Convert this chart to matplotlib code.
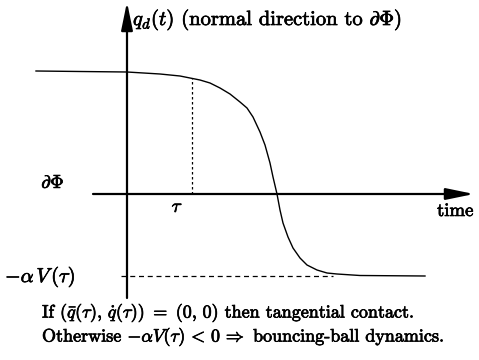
import numpy as np
import matplotlib
matplotlib.use("Agg")
import matplotlib.pyplot as plt
import matplotlib.patheffects as pe

plt.rcParams["font.family"] = "cmr10"
plt.rcParams["mathtext.fontset"] = "cm"
plt.rcParams["axes.formatter.use_mathtext"] = True

# curve q_d(t) (origin at the axes crossing)
t_curve = [-91, -47, 0, 33, 53, 63, 73, 83, 93, 103, 113, 120, 126, 133, 138, 143, 146,
           150, 153, 156, 161, 166, 173, 180, 190, 200, 210, 233, 298]
q_curve = [123, 122.5, 122, 120, 118, 116, 114, 111, 106, 100, 92, 86, 77, 62, 49, 31, 17,
           0, -16, -29, -43, -54, -64, -71, -76, -79, -80, -81.5, -82]

tau = 64.5         # contact time
q_tau = 116        # q_d(tau)
alpha_V = -82      # -alpha V(tau)

fig = plt.figure(figsize=(4.79, 3.6), dpi=100)
ax = fig.add_axes([0, 0, 1, 1])
ax.set_xlim(-127, 352)
ax.set_ylim(-166, 194)
ax.axis("off")

# axes with arrows
ax.annotate("", xy=(347, 0), xytext=(-34, 0),
            arrowprops=dict(arrowstyle="-|>,head_length=1.7,head_width=0.35",
                            lw=1.6, color="black", shrinkA=0, shrinkB=0))
ax.annotate("", xy=(0, 192), xytext=(0, -104),
            arrowprops=dict(arrowstyle="-|>,head_length=1.7,head_width=0.35",
                            lw=1.6, color="black", shrinkA=0, shrinkB=0))

ax.plot(t_curve, q_curve, color="black", lw=1.0, solid_joinstyle="round")

# dashed guides
ax.plot([tau, tau], [0, q_tau], color="black", lw=0.9, ls=(0, (2, 2)))
ax.plot([-6, 206], [alpha_V, alpha_V], color="black", lw=0.9, ls=(0, (4, 3)))

thick = [pe.withStroke(linewidth=0.5, foreground="black")]
fs = 13.5
cfs = 13

def label(x, y, s, size, **kw):
    ax.text(x, y, s, fontsize=size, path_effects=thick, **kw)

label(6, 174, r"$q_d(t)$ (normal direction to $\partial\Phi$)", 14.8, va="center", ha="left")
label(-74, 11, r"$\partial\Phi$", fs, va="center", ha="center")
label(tau - 14, -13, r"$\tau$", fs, va="center", ha="center")
label(346, -17, "time", fs, va="center", ha="right")
label(-122, -83, r"$-\alpha\,V\,(\tau)$", 14.5, va="center", ha="left")

label(-85, -119, r"If $(\bar{q}(\tau),\,\dot{q}(\tau))\ =\ (0,\,0)$ then tangential contact.",
      cfs, va="center", ha="left")
label(-85, -143, r"Otherwise $-\alpha V(\tau)\,<\,0\,\Rightarrow$ bouncing-ball dynamics.",
      cfs, va="center", ha="left")

fig.savefig("out.png", dpi=100)
